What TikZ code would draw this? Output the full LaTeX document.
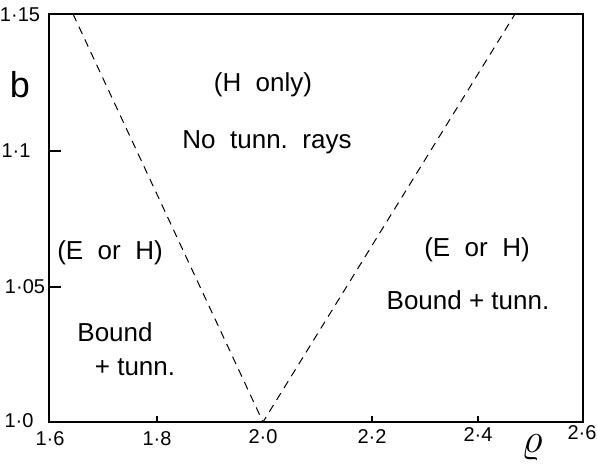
\documentclass[tikz,border=0pt]{standalone}
\usepackage{fontspec}
\setmainfont{Liberation Sans}
\usetikzlibrary{positioning}

\begin{document}
\begin{tikzpicture}[x=0.5pt,y=0.5pt,
  every node/.style={inner sep=0pt,font=\fontsize{13}{15}\selectfont},
  ticklabel/.style={font=\fontsize{10}{11}\selectfont},
  boundary/.style={dash pattern=on 4pt off 3pt,line width=0.5pt}]
\useasboundingbox (0,0) rectangle (597,468);
% frame and ticks
\draw[line width=1.1pt] (49,46) rectangle (583,454);
\foreach \x in {157,372,478} \draw[line width=0.6pt] (\x,46)--(\x,52);
\foreach \y in {181,317} \draw[line width=0.6pt] (49,\y)--(61,\y);
% tick labels
\node[ticklabel] (y115) at (20,453) {1·15};
\node[ticklabel] (y110) at (16,317) {1·1};
\node[ticklabel] (y105) at (25,181) {1·05};
\node[ticklabel] (y100) at (19,47) {1·0};
\node[ticklabel] (x16) at (50,29) {1·6};
\node[ticklabel] (x18) at (157,29) {1·8};
\node[ticklabel] (x20) at (263,31) {2·0};
\node[ticklabel] (x22) at (372,31) {2·2};
\node[ticklabel] (x24) at (478,33) {2·4};
\node[ticklabel] (x26) at (582,35) {2·6};
\node[font=\fontsize{18}{18}\selectfont] (blab) at (20,383) {b};
\node[font=\fontsize{22}{22}\selectfont] (rholab) at (532,20) {$\varrho$};
% boundaries
\coordinate (vtx) at (263,46);
\coordinate (ltop) at (73,454);
\coordinate (rtop) at (515,454);
\draw[boundary] (ltop)--(vtx)--(rtop);
% regions
\node (honly) at (263,383) {(H\ \ only)};
\node (notunn) at (267,326) {No\ \ tunn.\ \ rays};
\node (leh) at (110,215) {(E\ \ or\ \ H)};
\node (lbound) at (115,136) {Bound};
\node (ltunn) at (135,101) {+ tunn.};
\node (reh) at (477,218) {(E\ \ or\ \ H)};
\node (rbound) at (468,168) {Bound + tunn.};
\end{tikzpicture}
\end{document}
